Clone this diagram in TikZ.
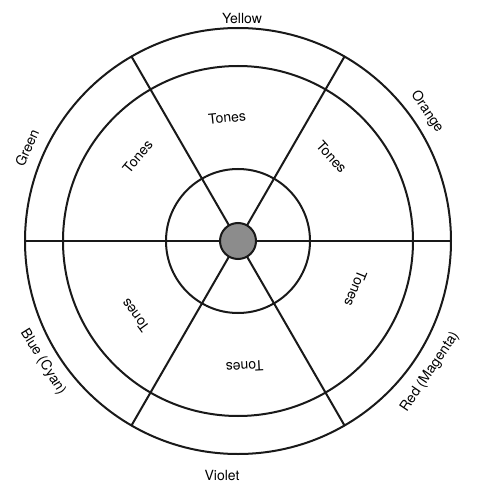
\documentclass[tikz,border=0pt]{standalone}
\usepackage{fontspec}
\setmainfont{TeX Gyre Heros}
\begin{document}
\begin{tikzpicture}[x=1pt,y=1pt,
  ring/.style={line width=2pt,draw=black!90},
  lbl/.style={font=\fontsize{14}{16}\selectfont,inner sep=0pt},
  hub/.style={circle,draw=black!90,line width=2pt,fill=black!45,minimum size=36pt,inner sep=0pt}]
\useasboundingbox (-238,-241) rectangle (241,241);
\coordinate (c) at (0,0);
\draw[ring] (c) circle (213);
\draw[ring] (c) circle (175);
\draw[ring] (c) circle (72);
\coordinate (a0) at (0:213);
\coordinate (a60) at (60:213);
\coordinate (a120) at (120:213);
\coordinate (a180) at (180:213);
\coordinate (a240) at (240:213);
\coordinate (a300) at (300:213);
\draw[ring] (a0) -- (a180);
\draw[ring] (a60) -- (a240);
\draw[ring] (a120) -- (a300);
\node[hub] (h) at (c) {};
% outer labels
\node[lbl] (yellow) at (4,222) {Yellow};
\node[lbl] (violet) at (-16,-234) {Violet};
\node[lbl,rotate=-56] (orange) at (189,129) {Orange};
\node[lbl,rotate=66] (green) at (-211,93) {Green};
\node[lbl,rotate=-58] (blue) at (-195,-121) {Blue (Cyan)};
\node[lbl,rotate=56] (red) at (192,-131) {Red (Magenta)};
% tones
\node[lbl,rotate=6] (t1) at (95:124) {Tones};
\node[lbl,rotate=-48] (t2) at (42:126) {Tones};
\node[lbl,rotate=50] (t3) at (140:131) {Tones};
\node[lbl,rotate=126] (t4) at (216:127) {Tones};
\node[lbl,rotate=183] (t5) at (-87:126) {Tones};
\node[lbl,rotate=-112] (t6) at (-22:127) {Tones};
\end{tikzpicture}
\end{document}
